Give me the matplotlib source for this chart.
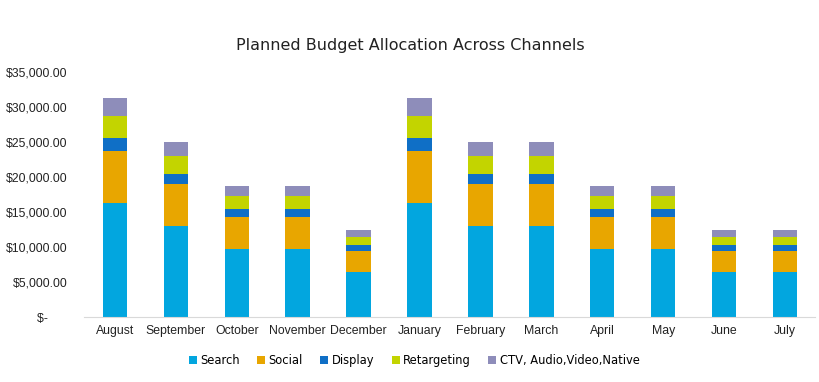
import matplotlib.pyplot as plt
import numpy as np

months = ["August", "September", "October", "November", "December", "January",
          "February", "March", "April", "May", "June", "July"]
search = [16250, 13000, 9750, 9750, 6500, 16250, 13000, 13000, 9750, 9750, 6500, 6500]
social = [7500, 6000, 4500, 4500, 3000, 7500, 6000, 6000, 4500, 4500, 3000, 3000]
display = [1875, 1500, 1125, 1125, 750, 1875, 1500, 1500, 1125, 1125, 750, 750]
retargeting = [3125, 2500, 1875, 1875, 1250, 3125, 2500, 2500, 1875, 1875, 1250, 1250]
ctv = [2500, 2000, 1500, 1500, 1000, 2500, 2000, 2000, 1500, 1500, 1000, 1000]

series = [("Search", search, "#02A6DF"),
          ("Social", social, "#E8A600"),
          ("Display", display, "#0F6FC6"),
          ("Retargeting", retargeting, "#C3D400"),
          ("CTV, Audio,Video,Native", ctv, "#8E8DBA")]

fig = plt.figure(figsize=(8.2, 3.82), dpi=100)
ax = fig.add_axes([0.103, 0.17, 0.8915, 0.6415])

x = np.arange(len(months))
bottom = np.zeros(len(months))
for name, vals, col in series:
    ax.bar(x, vals, 0.4, bottom=bottom, color=col, label=name, edgecolor="none")
    bottom += np.array(vals)

ax.set_xlim(-0.5, len(months) - 0.5)
ax.set_ylim(0, 35000)
ax.set_yticks(np.arange(0, 35001, 5000))
# "$-" sits further left in the reference, hence the trailing spaces
ax.set_yticklabels([f"${v:,.2f}" if v else "$-      " for v in range(0, 35001, 5000)],
                   family="Liberation Sans")
ax.set_xticks(x)
ax.set_xticklabels(months, family="Liberation Sans")
ax.tick_params(length=0, labelsize=8.8, colors="#222222")
ax.tick_params(axis="y", pad=12)
ax.tick_params(axis="x", pad=6)
for s in ["top", "right", "left"]:
    ax.spines[s].set_visible(False)
ax.spines["bottom"].set_color("#D9D9D9")

fig.text(0.5, 0.882, "Planned Budget Allocation Across Channels", ha="center",
         va="center", fontsize=11.5, color="#222222")
fig.legend(loc="center", bbox_to_anchor=(0.505, 0.057), ncol=5, frameon=False,
           fontsize=8.3, handlelength=0.7, handleheight=0.7, handletextpad=0.3,
           columnspacing=1.5)

fig.savefig("out.png", dpi=100)
